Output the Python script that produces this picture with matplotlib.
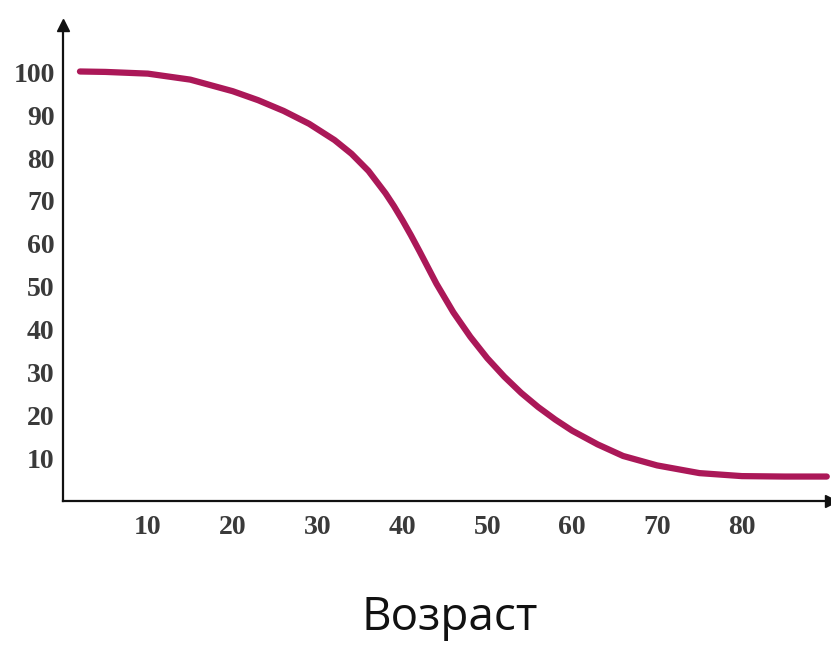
import matplotlib.pyplot as plt

# значения
age = [2, 5, 10, 15, 20, 23, 26, 29, 32, 34, 36, 38, 39, 40, 41, 42, 43, 44,
       46, 48, 50, 52, 54, 56, 58, 60, 63, 66, 70, 75, 80, 85, 90]
share = [100.2, 100.1, 99.7, 98.3, 95.6, 93.5, 91, 88, 84.2, 81, 77, 71.8,
         68.8, 65.5, 62, 58.3, 54.5, 50.7, 44, 38.3, 33.3, 29, 25.2, 21.9,
         19, 16.4, 13.2, 10.5, 8.3, 6.5, 5.8, 5.7, 5.7]
xticks = [10, 20, 30, 40, 50, 60, 70, 80]
yticks = [10, 20, 30, 40, 50, 60, 70, 80, 90, 100]

fig = plt.figure(figsize=(8.31, 6.46), dpi=100)
ax = fig.add_axes([0.0758, 0.2245, 0.9242, 0.7365])

ax.plot(age, share, color='#AB1858', lw=4.5, solid_capstyle='round',
        solid_joinstyle='round')

ax.set_xlim(0, 90.5)
ax.set_ylim(0, 111)
for s in ['top', 'right']:
    ax.spines[s].set_visible(False)
for s in ['left', 'bottom']:
    ax.spines[s].set_linewidth(1.6)
    ax.spines[s].set_color('#111111')

# стрелки на концах осей
ax.plot(1, 0, '>', color='#111111', ms=9, transform=ax.transAxes, clip_on=False)
ax.plot(0, 1, '^', color='#111111', ms=9, transform=ax.transAxes, clip_on=False)

ax.set_xticks(xticks)
ax.set_yticks(yticks)
ax.set_xticklabels([str(v) for v in xticks], family='Liberation Serif',
                   fontsize=20, weight='bold', color='#3a3a3a')
ax.set_yticklabels([str(v) for v in yticks], family='Liberation Serif',
                   fontsize=20, weight='bold', color='#3a3a3a')
ax.tick_params(axis='both', length=0)
ax.tick_params(axis='x', pad=10)
ax.tick_params(axis='y', pad=6)

fig.text(450 / 831, 1 - 618 / 646, 'Возраст', family='Open Sans', fontsize=33,
         ha='center', va='center', color='#111111')

fig.savefig('out.png', dpi=100)
